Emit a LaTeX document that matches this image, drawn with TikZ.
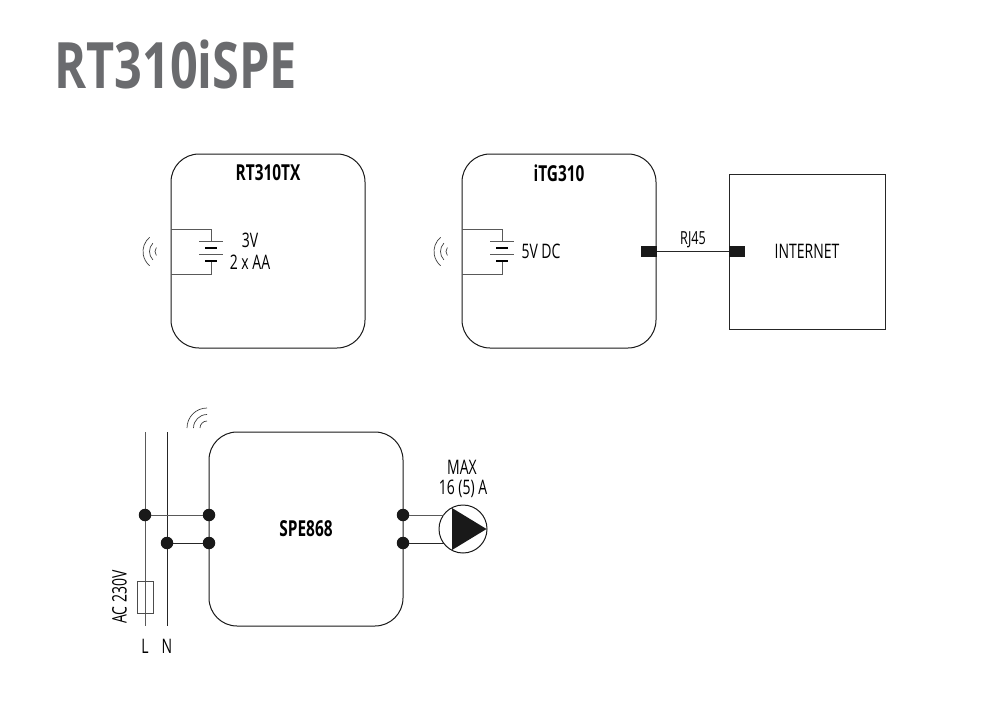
\documentclass[tikz,border=0pt]{standalone}
\usepackage{fontspec}
\setmainfont{Open Sans}[FakeStretch=0.70]
\newfontfamily\titlefont{Open Sans}[FakeStretch=0.76,BoldFont={Open Sans Bold}]
\definecolor{titlegrey}{HTML}{6A6B6E}
\tikzset{
  x=1pt,y=-1pt,
  wire/.style={line width=0.8pt,draw=black!85},
  thinwire/.style={line width=0.7pt,draw=black!65},
  devbox/.style={draw=black!90,line width=1pt,rounded corners=28pt,minimum width=194pt,minimum height=194pt,inner sep=0pt},
  plainbox/.style={draw=black!85,line width=0.9pt,minimum width=156pt,minimum height=155pt,inner sep=0pt},
  dot/.style={circle,fill=black!90,minimum size=12.5pt,inner sep=0pt},
  port/.style={fill=black!90,minimum width=16pt,minimum height=11pt,inner sep=0pt},
  lab/.style={font=\fontsize{20}{21}\selectfont,text=black,inner sep=0pt},
  smalllab/.style={font=\fontsize{18}{19}\selectfont,text=black,inner sep=0pt},
  boldlab/.style={font=\fontsize{22}{23}\selectfont\bfseries,text=black,inner sep=0pt},
  wave/.style={line width=0.7pt,draw=black!75},
  plate/.style={line width=0.8pt,draw=black!65},
  shortplate/.style={line width=1.5pt,draw=black},
}
\begin{document}
\begin{tikzpicture}
\useasboundingbox (0,0) rectangle (1000,704);
\node[anchor=base west,inner sep=0pt,text=titlegrey] (title) at (54,88) {\titlefont\fontsize{64}{66}\selectfont\bfseries RT310iSPE};

% top boxes
\node[devbox] (tx) at (268,251) {};
\node[boldlab] (txl) at (268,173) {RT310TX};
\node[devbox] (gw) at (559,251) {};
\node[boldlab] (gwl) at (559,173) {iTG310};
\node[plainbox] (net) at (807,251.5) {};
\node[lab] (netl) at (807,251) {INTERNET};

% batteries and radio waves
\foreach \bx/\ex/\nm in {171/211/a,462/502/b}{
  \coordinate (t\nm) at (\ex,229);
  \coordinate (u\nm) at (\ex,241);
  \coordinate (v\nm) at (\ex,261);
  \coordinate (w\nm) at (\ex,274);
  \coordinate (s\nm) at (\bx,229);
  \coordinate (e\nm) at (\bx,274);
  \draw[thinwire] (s\nm) -- (t\nm) -- (u\nm);
  \draw[thinwire] (v\nm) -- (w\nm) -- (e\nm);
  \draw[plate] (\ex-12,241) -- (\ex+12,241);
  \draw[shortplate] (\ex-6,248) -- (\ex+6,248);
  \draw[plate] (\ex-12,254.5) -- (\ex+12,254.5);
  \draw[shortplate] (\ex-6,261) -- (\ex+6,261);
  \foreach \r/\h in {18.5/50,12/44,6.5/38}{
    \draw[wave] ({\bx-9.5-\r*cos(\h)},{251.5-\r*sin(\h)}) arc[start angle=180-\h,end angle=180+\h,radius=\r pt];
  }
}
\node[lab] (v3) at (250,240.5) {3V};
\node[lab] (aa) at (250,262) {2 x AA};
\node[lab] (v5) at (541,251.5) {5V DC};

% RJ45
\node[port] (p1) at (649,251.5) {};
\node[port] (p2) at (737,251.5) {};
\draw[wire] (p1) -- (p2);
\node[smalllab] (rj) at (693,240) {RJ45};

% lower device
\node[devbox] (spe) at (306,529) {};
\node[boldlab] (spel) at (306,529) {SPE868};
\foreach \r in {20,13.5,7}{
  \draw[wave] ({207-\r},428) arc[start angle=180,end angle=90,radius=\r pt];
}

% mains
\coordinate (Ltop) at (145,432);
\coordinate (Lbot) at (145,626);
\coordinate (Ntop) at (167,432);
\coordinate (Nbot) at (167,626);
\draw[thinwire] (Ltop) -- (Lbot);
\draw[wire] (Ntop) -- (Nbot);
\node[draw=black!70,line width=0.7pt,minimum width=16pt,minimum height=31.5pt,inner sep=0pt] (fuse) at (145,597.5) {};
\node[dot] (dL) at (145,515) {};
\node[dot] (dN) at (167,543) {};
\node[dot] (d1) at (209,515) {};
\node[dot] (d2) at (209,543) {};
\draw[thinwire] (dL) -- (d1);
\draw[wire] (dN) -- (d2);
\node[lab] (L) at (145,646) {L};
\node[lab] (N) at (167,646) {N};
\node[lab,rotate=90] (ac) at (119.5,597) {AC 230V};

% pump
\node[dot] (d3) at (403,515) {};
\node[dot] (d4) at (403,543) {};
\node[circle,draw=black!90,fill=white,line width=1pt,minimum size=48pt,inner sep=0pt] (pump) at (463,529) {};
\coordinate (pa) at (443.5,515);
\coordinate (pb) at (443.5,543);
\draw[thinwire] (d3) -- (pa);
\draw[wire] (d4) -- (pb);
\fill[black!90] (452,508) -- (486.5,529) -- (452,550) -- cycle;
\node[lab] (max) at (462,467.5) {MAX};
\node[lab] (amp) at (463,488.5) {16 (5) A};
\end{tikzpicture}
\end{document}
